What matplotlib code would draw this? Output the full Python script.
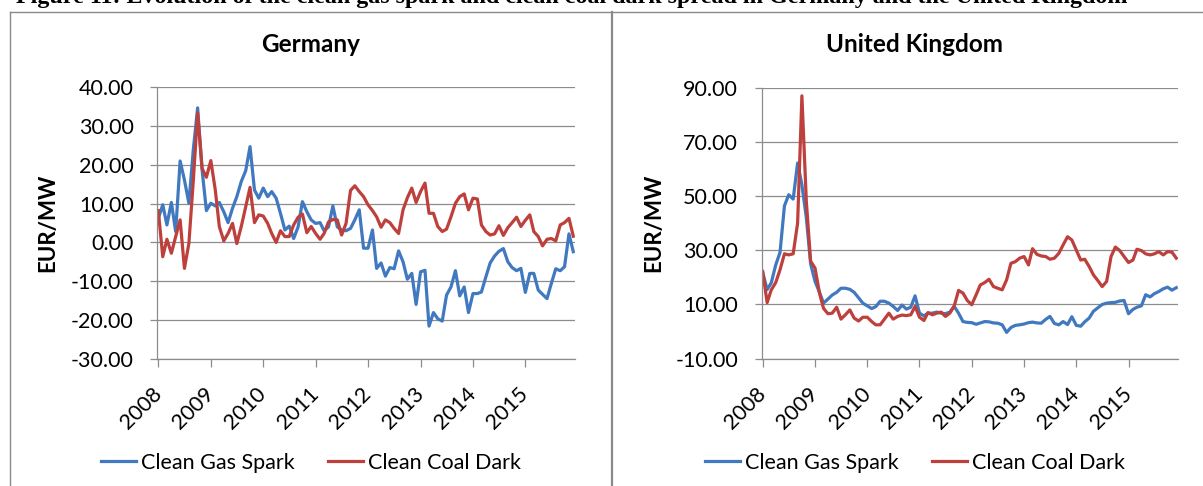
import numpy as np
import pandas as pd
import matplotlib
matplotlib.use('Agg')
import matplotlib.pyplot as plt
from matplotlib.lines import Line2D
from matplotlib.ticker import FormatStrFormatter

# monthly values, Jan 2008 - Dec 2015 (EUR/MW)
years = ['2008', '2009', '2010', '2011', '2012', '2013', '2014', '2015']

de_gas = [6.2, 9.7, 4.5, 10.3, 2.8, 21.0, 16.1, 10.1, 24.0, 34.7, 18.7, 8.2,
          10.1, 9.4, 10.3, 7.9, 5.1, 8.8, 11.8, 15.7, 18.5, 24.7, 13.5, 11.4,
          14.0, 11.8, 13.1, 11.4, 7.5, 3.2, 4.2, 1.0, 4.0, 10.5, 7.9, 5.8,
          4.9, 5.1, 3.0, 4.0, 9.4, 4.0, 3.2, 3.0, 3.6, 5.8, 8.4, -1.5,
          -1.5, 3.2, -6.7, -5.3, -8.7, -6.5, -6.8, -2.2, -5.0, -9.5, -8.0, -16.0,
          -7.6, -7.2, -21.6, -18.1, -19.7, -20.3, -13.6, -11.5, -7.3, -13.8, -11.5, -18.1,
          -13.2, -13.2, -12.8, -8.9, -5.3, -3.5, -2.3, -1.6, -5.0, -6.5, -7.3, -6.7,
          -12.9, -8.0, -8.0, -12.3, -13.4, -14.5, -10.6, -6.8, -7.3, -6.3, 2.2, -2.4]

de_coal = [8.2, -3.7, 0.8, -2.8, 1.5, 5.8, -6.7, -0.3, 16.0, 33.4, 19.1, 16.8,
           21.1, 13.5, 4.1, 0.4, 2.3, 4.9, -0.3, 4.1, 9.2, 14.2, 5.1, 7.1,
           6.8, 4.9, 2.3, 0.0, 3.0, 1.5, 1.5, 4.5, 6.5, 7.3, 2.5, 4.1,
           2.3, 0.8, 2.3, 5.3, 5.9, 5.8, 1.9, 4.9, 13.4, 14.6, 13.1, 11.8,
           9.7, 8.2, 6.6, 3.9, 5.8, 5.1, 3.6, 2.3, 8.4, 11.5, 14.0, 10.3,
           13.1, 15.3, 7.5, 7.5, 4.1, 2.8, 3.4, 6.6, 10.1, 11.8, 12.5, 8.4,
           11.4, 11.2, 4.5, 2.8, 1.9, 2.2, 4.3, 1.8, 3.8, 5.1, 6.5, 4.1,
           5.7, 7.1, 2.8, 1.5, -0.9, 0.8, 1.0, 0.4, 4.5, 5.1, 6.2, 1.6]

uk_gas = [21.8, 15.5, 18.0, 24.6, 29.2, 46.4, 50.5, 48.9, 62.2, 54.2, 42.0, 25.0,
          18.5, 14.5, 10.5, 12.0, 13.5, 14.5, 16.0, 16.0, 15.6, 14.5, 12.5, 10.5,
          9.5, 8.5, 9.2, 11.2, 11.2, 10.5, 9.3, 7.8, 9.8, 8.3, 9.0, 13.2,
          6.8, 5.8, 6.8, 6.8, 7.2, 6.8, 6.6, 7.2, 9.3, 6.8, 3.7, 3.4,
          3.3, 2.7, 3.2, 3.7, 3.6, 3.2, 3.1, 2.5, -0.3, 1.5, 2.3, 2.5,
          2.8, 3.3, 3.5, 3.2, 3.1, 4.5, 5.6, 3.0, 2.5, 3.7, 2.6, 5.5,
          2.3, 2.0, 3.6, 5.0, 7.5, 8.8, 10.0, 10.5, 10.7, 10.8, 11.3, 11.5,
          6.6, 8.2, 9.0, 9.5, 13.6, 12.8, 14.0, 14.8, 15.8, 16.4, 15.3, 16.2]

uk_coal = [22.2, 10.7, 15.4, 18.1, 22.8, 28.7, 28.3, 28.7, 40.0, 87.0, 48.0, 26.0,
           23.4, 14.2, 8.6, 6.6, 6.8, 9.0, 4.6, 6.2, 8.0, 5.0, 3.9, 5.3,
           5.3, 3.7, 2.5, 2.5, 4.6, 6.8, 4.6, 5.6, 6.1, 5.9, 6.2, 9.3,
           5.3, 4.1, 7.0, 6.2, 6.8, 7.2, 5.6, 6.8, 9.5, 15.2, 14.2, 11.5,
           9.9, 13.6, 17.2, 18.1, 19.3, 16.6, 16.0, 15.4, 19.1, 25.2, 25.8, 27.1,
           27.7, 24.6, 30.6, 28.5, 27.9, 27.7, 26.7, 27.1, 28.9, 32.0, 35.0, 33.8,
           30.1, 26.4, 26.7, 24.0, 20.9, 18.8, 16.6, 18.5, 27.7, 31.2, 29.9, 27.7,
           25.5, 26.4, 30.4, 29.9, 28.7, 28.3, 28.7, 29.5, 28.3, 29.5, 29.3, 27.1]

de_yticks = [-30, -20, -10, 0, 10, 20, 30, 40]
uk_yticks = [-10, 10, 30, 50, 70, 90]

caption = ('Figure 11: Evolution of the clean gas spark and clean coal dark spread '
           'in Germany and the United Kingdom')

BLUE = '#4079BF'
RED = '#BE403D'
GRID = '#8C8C8C'

plt.rcParams['font.family'] = ['Lato', 'DejaVu Sans']

W, H = 1203, 486
fig = plt.figure(figsize=(W / 100, H / 100), dpi=100)


def px_box(left, top, right, bottom):
    return [left / W, 1 - bottom / H, (right - left) / W, (bottom - top) / H]


def draw_panel(box, gas, coal, yticks, title, cx, ylabel_x):
    ax = fig.add_axes(box)
    dates = pd.date_range('2008-01-01', periods=len(gas), freq='MS')
    ax.plot(dates, gas, color=BLUE, lw=2.3, label='Clean Gas Spark')
    ax.plot(dates, coal, color=RED, lw=2.3, label='Clean Coal Dark')
    ax.set_xlim(dates[0] - pd.Timedelta(days=7), dates[-1] + pd.Timedelta(days=12))
    ax.set_ylim(yticks[0], yticks[-1])
    ax.set_yticks(yticks)
    ax.yaxis.set_major_formatter(FormatStrFormatter('%.2f'))
    ax.set_xticks(pd.to_datetime(years))
    ax.set_xticklabels(years)
    ax.grid(axis='y', color=GRID, lw=0.9)
    ax.set_axisbelow(True)
    for s in ['top', 'right']:
        ax.spines[s].set_visible(False)
    for s in ['left', 'bottom']:
        ax.spines[s].set_color(GRID)
        ax.spines[s].set_linewidth(0.9)
    ax.tick_params(axis='y', length=5, width=0.9, color=GRID, pad=12,
                   labelsize=15.5, labelcolor='black')
    ax.tick_params(axis='x', length=6, width=0.9, color=GRID, pad=17,
                   labelsize=15.5, labelcolor='black')
    plt.setp(ax.get_xticklabels(), rotation=45, ha='right', va='center',
             rotation_mode='anchor')

    fig.text(cx / W, 1 - 45 / H, title, ha='center', va='center',
             fontsize=17.5, fontweight='bold')
    fig.text(ylabel_x / W, 1 - 223 / H, 'EUR/MW', rotation=90, ha='center',
             va='center', fontsize=16, fontweight='bold')
    ax.legend(loc='center', bbox_to_anchor=(cx / W, 1 - 463 / H),
              bbox_transform=fig.transFigure, ncol=2, frameon=False,
              fontsize=15.5, handlelength=1.65, handletextpad=0.25,
              columnspacing=1.5)
    return ax


draw_panel(px_box(157.3, 87.3, 575, 358.7), de_gas, de_coal, de_yticks,
           'Germany', 311, 47.5)
draw_panel(px_box(761.7, 87.7, 1178, 358.7), uk_gas, uk_coal, uk_yticks,
           'United Kingdom', 915, 653.5)

# chart area borders
border = dict(color='#8A8A8A', transform=fig.transFigure)
fig.add_artist(Line2D([10 / W, 611.5 / W], [1 - 12 / H, 1 - 12 / H], lw=1, **border))
fig.add_artist(Line2D([611.5 / W, 1], [1 - 12 / H, 1 - 12 / H], lw=1, **border))
fig.add_artist(Line2D([10 / W, 10 / W], [0, 1 - 12 / H], lw=1, **border))
fig.add_artist(Line2D([611.5 / W, 611.5 / W], [0, 1 - 12 / H], lw=1.6, **border))

# caption of the page, cut off at the top edge as in the source
fig.text(16 / W, 1 - 3 / H, caption, ha='left', va='baseline',
         fontsize=17.3, fontweight='bold',
         family=['Liberation Serif', 'DejaVu Serif'])

fig.savefig('out.png', dpi=100)
